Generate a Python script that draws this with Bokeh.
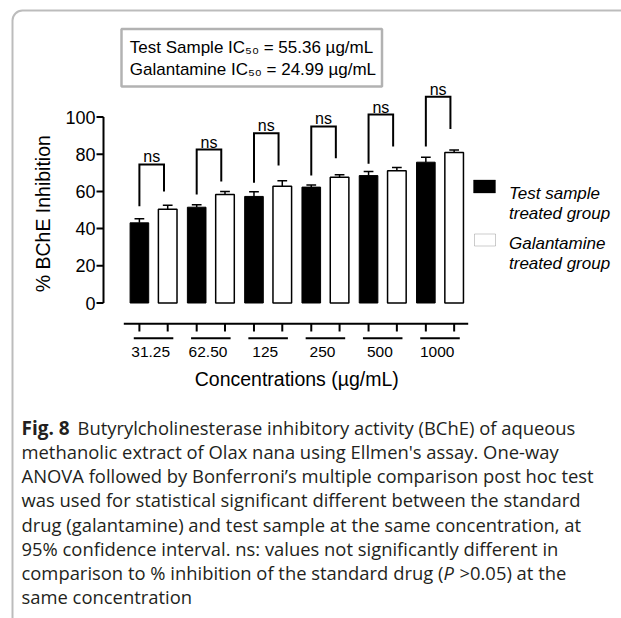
import math
from bokeh.plotting import figure
from bokeh.models import Range1d, Label, BoxAnnotation, ColumnDataSource
from bokeh.embed import file_html
from bokeh.resources import INLINE
from bokeh.core.properties import value

# ---------------- data ----------------
concentrations = ["31.25", "62.50", "125", "250", "500", "1000"]
test_mean = [43.1, 51.5, 57.3, 62.3, 68.5, 75.7]
test_sem = [2.2, 1.3, 2.5, 1.2, 2.2, 2.7]
gal_mean = [50.4, 58.3, 62.8, 67.6, 71.1, 80.9]
gal_sem = [2.1, 1.6, 2.9, 1.3, 1.7, 1.3]
bracket_top = [74.5, 82.5, 91.3, 94.9, 101.3, 110.9]
bracket_left_end = [52.0, 58.3, 64.6, 68.5, 74.8, 84.1]
bracket_right_end = [60.0, 65.3, 73.9, 77.8, 84.1, 93.6]
sig_labels = ["ns", "ns", "ns", "ns", "ns", "ns"]
y_ticks = [0, 20, 40, 60, 80, 100]
y_tick_labels = ["0", "20", "40", "60", "80", "100"]
ic50_names = ["Test Sample", "Galantamine"]
ic50_values = [55.36, 24.99]
legend_lines = [["Test sample", "treated group"], ["Galantamine", "treated group"]]
caption_lines = [
    "Butyrylcholinesterase inhibitory activity (BChE) of aqueous",
    "methanolic extract of Olax nana using Ellmen's assay. One-way",
    "ANOVA followed by Bonferroni\u2019s multiple comparison post hoc test",
    "was used for statistical significant different between the standard",
    "drug (galantamine) and test sample at the same concentration, at",
    "95% confidence interval. ns: values not significantly different in",
    "comparison to % inhibition of the standard drug (",
    "same concentration",
]

# ---------------- layout constants ----------------
W, H = 621, 618
AX = 103                    # px of y axis line
X0, XS = 153.05, 57.29      # px of first group centre, px per group
Y0, YS = 302.5, 1.86        # px of value 0, px per unit
OFF = 0.247                 # bar offset from group centre
BAR_W = 0.325
FONT = "Liberation Sans"
CAP_FONT = "Open Sans"


def yv(py):
    return (Y0 - py) / YS


def xu(px):
    return (px - X0) / XS


def sy(py):
    return H - py


def screen_box(l, r, t, b, **kw):
    return BoxAnnotation(left=l, right=r, top=sy(t), bottom=sy(b),
                         left_units="screen", right_units="screen",
                         top_units="screen", bottom_units="screen", **kw)


def label(x, y, text, **kw):
    opts = dict(text_font=FONT, text_color="black", text_baseline="middle")
    opts.update(kw)
    return Label(x=x, y=sy(y), x_units="screen", y_units="screen", text=text, **opts)


p = figure(width=W, height=H, output_backend="svg", toolbar_location=None,
           x_range=Range1d(xu(0), xu(W)), y_range=Range1d(yv(H), yv(0)),
           x_axis_type=None, y_axis_type=None,
           min_border_left=0, min_border_right=0, min_border_top=0, min_border_bottom=0)
p.outline_line_color = None
p.background_fill_color = "white"
p.border_fill_color = "white"

n = len(concentrations)
xb = [i - OFF for i in range(n)]
xw = [i + OFF for i in range(n)]

# ---- y axis (GraphPad style, drawn on the data scale) ----
p.segment(x0=[xu(AX)], y0=[y_ticks[0]], x1=[xu(AX)], y1=[y_ticks[-1]], line_color="black", line_width=2)
p.segment(x0=[xu(AX - 7)] * len(y_ticks), y0=y_ticks, x1=[xu(AX)] * len(y_ticks), y1=y_ticks,
          line_color="black", line_width=2)
p.text(x=[xu(AX - 8)] * len(y_ticks), y=y_ticks, text=y_tick_labels, text_font=value(FONT),
       text_font_size="18px", text_align="right", text_baseline="middle", text_color="black")
p.text(x=[xu(42)], y=[(y_ticks[0] + y_ticks[-1]) / 2 - 2], text=["% BChE Inhibition"], angle=math.pi / 2,
       text_font=value(FONT), text_font_size="19.5px", text_align="center", text_baseline="middle",
       text_color="black")

# bars
p.vbar(x=xb, top=test_mean, bottom=0, width=BAR_W, fill_color="black", line_color="black", line_width=1)
p.vbar(x=xw, top=gal_mean, bottom=0, width=BAR_W, fill_color="white", line_color="black", line_width=1.5)

# error bars (upper)
tb_top = [m + s for m, s in zip(test_mean, test_sem)]
gw_top = [m + s for m, s in zip(gal_mean, gal_sem)]
CAP = 0.085
p.segment(x0=xb, y0=test_mean, x1=xb, y1=tb_top, line_color="black", line_width=1.5)
p.segment(x0=[x - CAP for x in xb], y0=tb_top, x1=[x + CAP for x in xb], y1=tb_top, line_color="black", line_width=1.5)
p.segment(x0=xw, y0=gal_mean, x1=xw, y1=gw_top, line_color="black", line_width=1.5)
p.segment(x0=[x - CAP for x in xw], y0=gw_top, x1=[x + CAP for x in xw], y1=gw_top, line_color="black", line_width=1.5)

# significance brackets
RL = OFF - 0.065
bsrc = ColumnDataSource(dict(
    xs=[[i - OFF, i - OFF, i + RL, i + RL] for i in range(n)],
    ys=[[l, t, t, r] for l, t, r in zip(bracket_left_end, bracket_top, bracket_right_end)],
))
p.multi_line(xs="xs", ys="ys", source=bsrc, line_color="black", line_width=2, line_join="miter")
p.text(x=[i + (RL - OFF) / 2 for i in range(n)], y=[t + 7.5 / YS for t in bracket_top], text=sig_labels,
       text_font=value(FONT), text_font_size="16px", text_align="center",
       text_baseline="alphabetic", text_color="black")

# ---- grouped x axis (GraphPad style) ----
y_axis_line = yv(323.3)
p.segment(x0=[xu(123.3)], y0=[y_axis_line], x1=[xu(467.7)], y1=[y_axis_line], line_color="black", line_width=2)
p.segment(x0=xb + xw, y0=[y_axis_line] * (2 * n), x1=xb + xw, y1=[yv(331)] * (2 * n), line_color="black", line_width=2)
p.segment(x0=[i - 0.345 for i in range(n)], y0=[yv(337.7)] * n,
          x1=[i + 0.345 for i in range(n)], y1=[yv(337.7)] * n, line_color="black", line_width=2)
p.text(x=[i - 0.05 for i in range(n)], y=[yv(351.5)] * n, text=concentrations,
       text_font=value(FONT), text_font_size="15.5px", text_align="center",
       text_baseline="middle", text_color="black")
p.text(x=[(n - 1) / 2], y=[yv(378)], text=["Concentrations (\u00b5g/mL)"],
       text_font=value(FONT), text_font_size="19.5px", text_align="center",
       text_baseline="middle", text_color="black")

# ---- IC50 box ----
p.add_layout(screen_box(121, 381.5, 28.5, 86, fill_color=None, line_color="black", line_width=2.5))
for k, (name, val) in enumerate(zip(ic50_names, ic50_values)):
    p.add_layout(label(129.3, 46.7 + 22.6 * k, "%s IC\u2085\u2080 = %.2f \u00b5g/mL" % (name, val),
                       text_font_size="17px"))

# ---- legend ----
p.add_layout(screen_box(473, 495, 179.5, 192.5, fill_color="black", fill_alpha=1,
                        line_color="black", line_width=1))
p.add_layout(screen_box(474, 495, 233.5, 245.5, fill_color="white", fill_alpha=1,
                        line_color="#555555", line_width=1))
for k, lines in enumerate(legend_lines):
    for j, t in enumerate(lines):
        p.add_layout(label(508.5, 192.5 + 50 * k + 20.5 * j, t, text_font_size="17px",
                           text_font_style="italic", text_baseline="alphabetic"))

# ---- figure frame (rounded corner) ----
p.add_layout(screen_box(12, W + 60, 10, H + 60, fill_color=None, line_color="#222222",
                        line_width=2, border_radius=10))

# ---- caption ----
CAP_SIZE = "18.4px"
CAP_COLOR = "#231f20"
for k, t in enumerate(caption_lines):
    yc = 427 + 24.15 * k
    xs0 = 21
    if k == 0:
        p.add_layout(label(21, yc, "Fig. 8", text_font=CAP_FONT, text_font_size="19px",
                           text_font_style="bold", text_color=CAP_COLOR))
        xs0 = 77
    p.add_layout(label(xs0, yc, t, text_font=CAP_FONT, text_font_size=CAP_SIZE, text_color=CAP_COLOR))
    if k == 6:
        p.add_layout(label(443, yc, "P", text_font=CAP_FONT, text_font_size=CAP_SIZE,
                           text_font_style="italic", text_color=CAP_COLOR))
        p.add_layout(label(459, yc, ">0.05) at the", text_font=CAP_FONT, text_font_size=CAP_SIZE,
                           text_color=CAP_COLOR))

open("out.html", "w").write(file_html(p, INLINE))
